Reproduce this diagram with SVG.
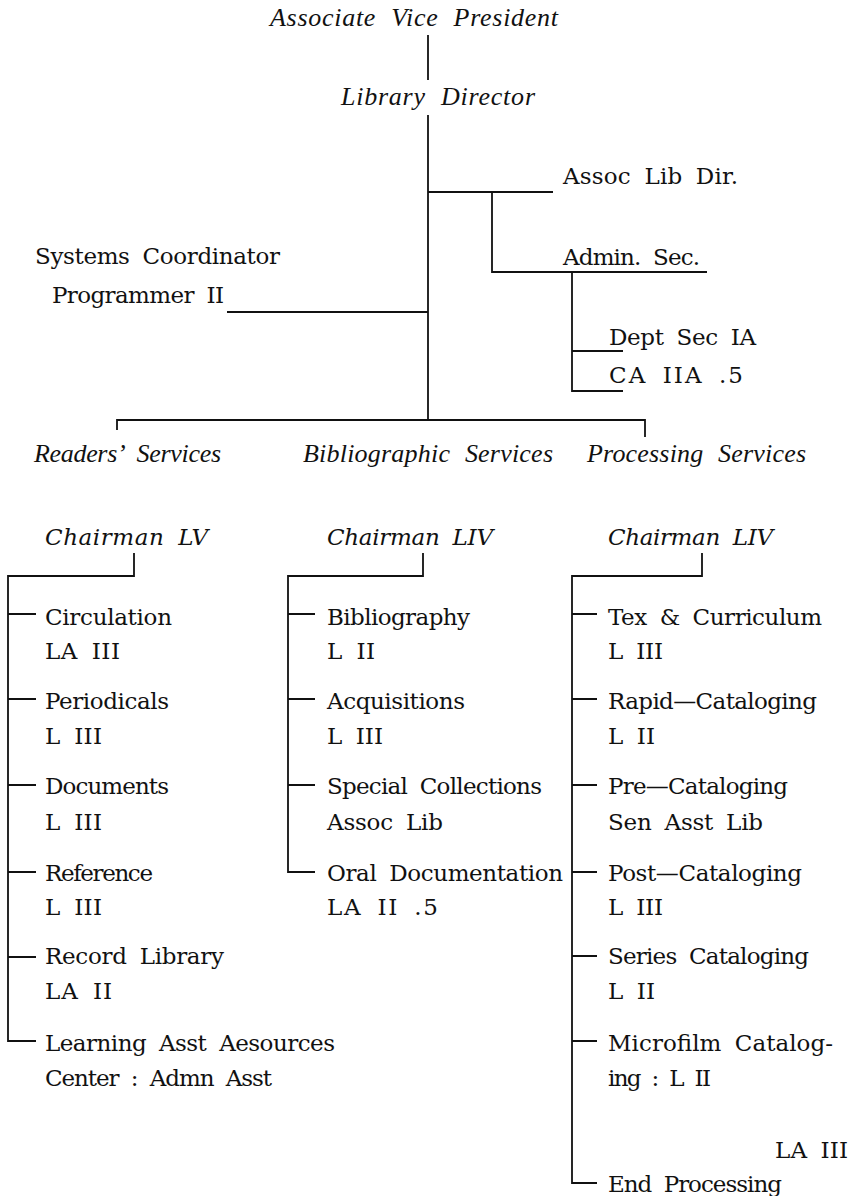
<svg xmlns="http://www.w3.org/2000/svg" width="855" height="1196" viewBox="0 0 855 1196">
<style>
.it{font-family:"Liberation Serif",serif;font-style:italic;font-size:26px;fill:#111;word-spacing:8px}
.rm{font-family:"DejaVu Serif","Liberation Serif",serif;font-size:23px;fill:#111;word-spacing:6px}
.ci{font-family:"DejaVu Serif","Liberation Serif",serif;font-style:italic;font-size:23px;fill:#111;word-spacing:6px}
.ln{stroke:#111;stroke-width:1.8;fill:none}
</style>
<rect width="855" height="1196" fill="#fff"/>
<g id="connectors" class="ln">
  <path d="M428,35V80"/>
  <path d="M428,115V420"/>
  <path d="M428,192H553"/>
  <path d="M492,192V272H707"/>
  <path d="M572,272V391H623"/>
  <path d="M572,351H623"/>
  <path d="M227,312H428"/>
  <path d="M117,430V420H645V437"/>
  <path d="M134,553V576H8V1041H36"/>
  <path d="M8,614H36M8,699H36M8,785H36M8,872H36M8,957H36"/>
  <path d="M423,553V576H288V872H315"/>
  <path d="M288,614H315M288,699H315M288,785H315"/>
  <path d="M702,553V576H572V1183H597"/>
  <path d="M572,614H597M572,699H597M572,785H597M572,872H597M572,956H597M572,1041H597"/>
</g>
<g id="avp"><text class="it" x="270" y="26" textLength="288" lengthAdjust="spacing">Associate Vice President</text></g>
<g id="director"><text class="it" x="341" y="105" textLength="194" lengthAdjust="spacing">Library Director</text></g>
<g id="assoc-lib-dir"><text class="rm" x="563" y="184" textLength="175" lengthAdjust="spacing">Assoc Lib Dir.</text></g>
<g id="admin-sec"><text class="rm" x="563" y="265" textLength="137" lengthAdjust="spacing">Admin. Sec.</text></g>
<g id="systems"><text class="rm" x="35" y="264" textLength="245" lengthAdjust="spacing">Systems Coordinator</text><text class="rm" x="52" y="303" textLength="172" lengthAdjust="spacing">Programmer II</text></g>
<g id="dept-sec"><text class="rm" x="609" y="345" textLength="147" lengthAdjust="spacing">Dept Sec IA</text></g>
<g id="ca-iia"><text class="rm" x="609" y="383" textLength="134" lengthAdjust="spacing">CA IIA .5</text></g>
<g id="readers"><text class="it" x="34" y="462" textLength="187" lengthAdjust="spacing">Readers’ Services</text></g>
<g id="bibliographic"><text class="it" x="303" y="462" textLength="250" lengthAdjust="spacing">Bibliographic Services</text></g>
<g id="processing"><text class="it" x="587" y="462" textLength="219" lengthAdjust="spacing">Processing Services</text></g>
<g id="chair-readers"><text class="ci" x="45" y="545" textLength="163" lengthAdjust="spacing">Chairman LV</text></g>
<g id="chair-bib"><text class="ci" x="327" y="545" textLength="166" lengthAdjust="spacing">Chairman LIV</text></g>
<g id="chair-proc"><text class="ci" x="608" y="545" textLength="165" lengthAdjust="spacing">Chairman LIV</text></g>
<g id="circulation"><text class="rm" x="45" y="625" textLength="127" lengthAdjust="spacing">Circulation</text><text class="rm" x="45" y="659" textLength="75" lengthAdjust="spacing">LA III</text></g>
<g id="periodicals"><text class="rm" x="45" y="709" textLength="124" lengthAdjust="spacing">Periodicals</text><text class="rm" x="45" y="744" textLength="57" lengthAdjust="spacing">L III</text></g>
<g id="documents"><text class="rm" x="45" y="794" textLength="124" lengthAdjust="spacing">Documents</text><text class="rm" x="45" y="830" textLength="57" lengthAdjust="spacing">L III</text></g>
<g id="reference"><text class="rm" x="45" y="881" textLength="108" lengthAdjust="spacing">Reference</text><text class="rm" x="45" y="915" textLength="57" lengthAdjust="spacing">L III</text></g>
<g id="record"><text class="rm" x="45" y="964" textLength="179" lengthAdjust="spacing">Record Library</text><text class="rm" x="45" y="999" textLength="67" lengthAdjust="spacing">LA II</text></g>
<g id="learning"><text class="rm" x="45" y="1051" textLength="290" lengthAdjust="spacing">Learning Asst Aesources</text><text class="rm" x="45" y="1086" textLength="227" lengthAdjust="spacing">Center : Admn Asst</text></g>
<g id="bibliography"><text class="rm" x="327" y="625" textLength="143" lengthAdjust="spacing">Bibliography</text><text class="rm" x="327" y="659" textLength="48" lengthAdjust="spacing">L II</text></g>
<g id="acquisitions"><text class="rm" x="327" y="709" textLength="138" lengthAdjust="spacing">Acquisitions</text><text class="rm" x="327" y="744" textLength="56" lengthAdjust="spacing">L III</text></g>
<g id="special"><text class="rm" x="327" y="794" textLength="215" lengthAdjust="spacing">Special Collections</text><text class="rm" x="327" y="830" textLength="116" lengthAdjust="spacing">Assoc Lib</text></g>
<g id="oral"><text class="rm" x="327" y="881" textLength="236" lengthAdjust="spacing">Oral Documentation</text><text class="rm" x="327" y="915" textLength="111" lengthAdjust="spacing">LA II .5</text></g>
<g id="tex"><text class="rm" x="608" y="625" textLength="214" lengthAdjust="spacing">Tex &amp; Curriculum</text><text class="rm" x="608" y="659" textLength="55" lengthAdjust="spacing">L III</text></g>
<g id="rapid"><text class="rm" x="608" y="709" textLength="209" lengthAdjust="spacing">Rapid—Cataloging</text><text class="rm" x="608" y="744" textLength="47" lengthAdjust="spacing">L II</text></g>
<g id="pre"><text class="rm" x="608" y="794" textLength="180" lengthAdjust="spacing">Pre—Cataloging</text><text class="rm" x="608" y="830" textLength="155" lengthAdjust="spacing">Sen Asst Lib</text></g>
<g id="post"><text class="rm" x="608" y="881" textLength="194" lengthAdjust="spacing">Post—Cataloging</text><text class="rm" x="608" y="915" textLength="55" lengthAdjust="spacing">L III</text></g>
<g id="series"><text class="rm" x="608" y="964" textLength="201" lengthAdjust="spacing">Series Cataloging</text><text class="rm" x="608" y="999" textLength="47" lengthAdjust="spacing">L II</text></g>
<g id="microfilm"><text class="rm" x="608" y="1051" textLength="225" lengthAdjust="spacing">Microfilm Catalog-</text><text class="rm" x="608" y="1086" textLength="103" lengthAdjust="spacing">ing : L II</text></g>
<g id="end"><text class="rm" x="775" y="1158" textLength="73" lengthAdjust="spacing">LA III</text><text class="rm" x="608" y="1192" textLength="174" lengthAdjust="spacing">End Processing</text></g>
</svg>
